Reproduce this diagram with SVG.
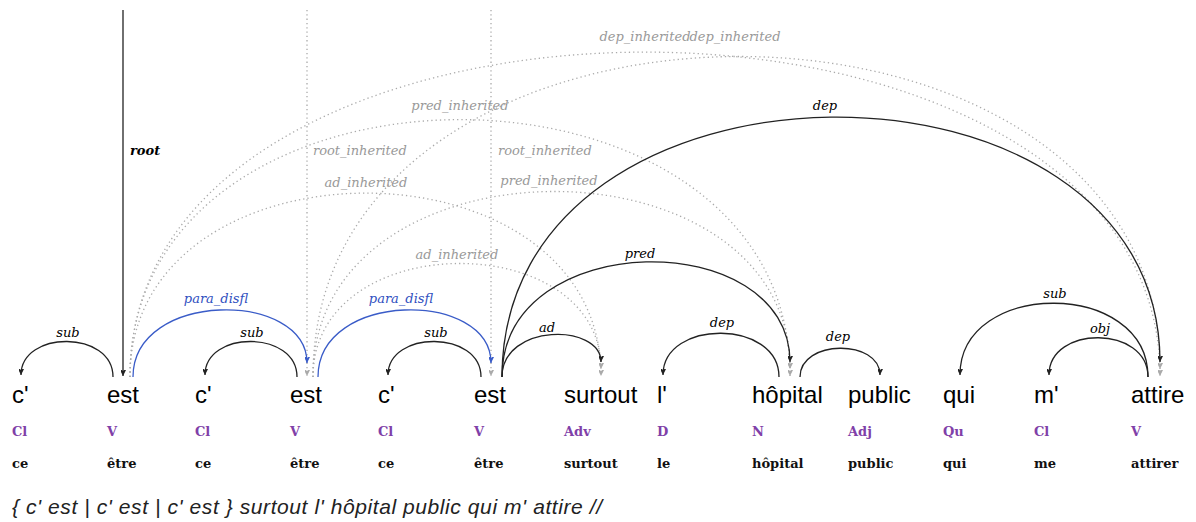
<svg xmlns="http://www.w3.org/2000/svg" width="1196" height="522" viewBox="0 0 1196 522">
<style>
.w{font-family:"Liberation Sans",Arial,sans-serif;font-size:24px;fill:#000}
.pos{font-family:"DejaVu Serif",serif;font-size:13px;font-weight:bold;fill:#8040a8}
.lem{font-family:"DejaVu Serif",serif;font-size:13px;font-weight:bold;fill:#111}
.sent{font-family:"Liberation Sans",Arial,sans-serif;font-size:21px;font-style:italic;fill:#222}
.lab{font-family:"DejaVu Serif",serif;font-size:13px;font-style:italic;text-anchor:middle}
.lk{fill:#000}
.lb{fill:#3050c0}
.lg{fill:#999}
.a{fill:none;stroke:#222;stroke-width:1.3}
.ab{fill:none;stroke:#3a5cc8;stroke-width:1.3}
.ad{fill:none;stroke:#aaa;stroke-width:1.3;stroke-dasharray:1.3 3}
</style>
<defs>
<marker id="mk" markerUnits="userSpaceOnUse" markerWidth="12" markerHeight="12" refX="6" refY="10" orient="auto" viewBox="0 0 12 12"><path d="M6,10 L2,2 L6,5 L10,2 Z" fill="#222" transform="rotate(-90 6 10)"/></marker>
<marker id="mb" markerUnits="userSpaceOnUse" markerWidth="12" markerHeight="12" refX="6" refY="10" orient="auto" viewBox="0 0 12 12"><path d="M6,10 L2,2 L6,5 L10,2 Z" fill="#3a5cc8" transform="rotate(-90 6 10)"/></marker>
<marker id="mg" markerUnits="userSpaceOnUse" markerWidth="12" markerHeight="12" refX="6" refY="10" orient="auto" viewBox="0 0 12 12"><path d="M6,10 L2,2 L6,5 L10,2 Z" fill="#aaa" transform="rotate(-90 6 10)"/></marker>
</defs>

<g id="connectors">
<path class="ad" marker-end="url(#mg)" d="M307,10 L307,376"/>
<path class="ad" marker-end="url(#mg)" d="M491,10 L491,376"/>
<path class="ad" marker-end="url(#mg)" d="M130,377 C130,-56 1160,-56 1160,376"/>
<path class="ad" marker-end="url(#mg)" d="M313,377 C313,-49 1160,-49 1160,369"/>
<path class="ad" marker-end="url(#mg)" d="M130,377 C130,34 790,34 790,376"/>
<path class="ad" marker-end="url(#mg)" d="M313,377 C313,131 790,131 790,369"/>
<path class="ad" marker-end="url(#mg)" d="M130,377 C130,132 601,132 601,376"/>
<path class="ad" marker-end="url(#mg)" d="M313,377 C313,227 601,227 601,369"/>
<path class="a" marker-end="url(#mk)" d="M123,10 L123,376"/>
<path class="a" marker-end="url(#mk)" d="M113,377 C113,330 21,330 21,375"/>
<path class="ab" marker-end="url(#mb)" d="M133,377 C133,290 307,290 307,363"/>
<path class="a" marker-end="url(#mk)" d="M297,377 C297,330 205,330 205,375"/>
<path class="ab" marker-end="url(#mb)" d="M318,377 C318,290 491,290 491,363"/>
<path class="a" marker-end="url(#mk)" d="M481,377 C481,330 388,330 388,375"/>
<path class="a" marker-end="url(#mk)" d="M502,377 C502,323 601,323 601,362"/>
<path class="a" marker-end="url(#mk)" d="M502,377 C502,226 790,226 790,362"/>
<path class="a" marker-end="url(#mk)" d="M502,377 C502,33 1160,33 1160,362"/>
<path class="a" marker-end="url(#mk)" d="M779,377 C779,319 663,319 663,375"/>
<path class="a" marker-end="url(#mk)" d="M800,377 C800,339 880,339 880,375"/>
<path class="a" marker-end="url(#mk)" d="M1148,377 C1148,279 960,279 960,375"/>
<path class="a" marker-end="url(#mk)" d="M1148,377 C1148,325 1049,325 1049,375"/>
</g>

<g id="labels">
<text class="lab lg" x="645" y="41">dep_inherited</text>
<text class="lab lg" x="735" y="41">dep_inherited</text>
<text class="lab lg" x="460" y="110">pred_inherited</text>
<text class="lab lg" x="313" y="155" style="text-anchor:start">root_inherited</text>
<text class="lab lg" x="498" y="155" style="text-anchor:start">root_inherited</text>
<text class="lab lg" x="366" y="187">ad_inherited</text>
<text class="lab lg" x="549" y="185">pred_inherited</text>
<text class="lab lg" x="457" y="259">ad_inherited</text>
<text class="lab lk" x="130" y="155" style="text-anchor:start;font-weight:bold">root</text>
<text class="lab lk" x="68" y="337">sub</text>
<text class="lab lk" x="252" y="337">sub</text>
<text class="lab lk" x="436" y="337">sub</text>
<text class="lab lb" x="216" y="303">para_disfl</text>
<text class="lab lb" x="401" y="303">para_disfl</text>
<text class="lab lk" x="547" y="332">ad</text>
<text class="lab lk" x="640" y="258">pred</text>
<text class="lab lk" x="825" y="110">dep</text>
<text class="lab lk" x="722" y="327">dep</text>
<text class="lab lk" x="838" y="341">dep</text>
<text class="lab lk" x="1055" y="298">sub</text>
<text class="lab lk" x="1100" y="333">obj</text>
</g>

<g id="n1"><text class="w" x="12" y="403">c'</text><text class="pos" x="12" y="436">Cl</text><text class="lem" x="12" y="468">ce</text></g>
<g id="n2"><text class="w" x="107" y="403">est</text><text class="pos" x="107" y="436">V</text><text class="lem" x="107" y="468">être</text></g>
<g id="n3"><text class="w" x="195" y="403">c'</text><text class="pos" x="195" y="436">Cl</text><text class="lem" x="195" y="468">ce</text></g>
<g id="n4"><text class="w" x="290" y="403">est</text><text class="pos" x="290" y="436">V</text><text class="lem" x="290" y="468">être</text></g>
<g id="n5"><text class="w" x="378" y="403">c'</text><text class="pos" x="378" y="436">Cl</text><text class="lem" x="378" y="468">ce</text></g>
<g id="n6"><text class="w" x="474" y="403">est</text><text class="pos" x="474" y="436">V</text><text class="lem" x="474" y="468">être</text></g>
<g id="n7"><text class="w" x="564" y="403">surtout</text><text class="pos" x="564" y="436">Adv</text><text class="lem" x="564" y="468">surtout</text></g>
<g id="n8"><text class="w" x="657" y="403">l'</text><text class="pos" x="657" y="436">D</text><text class="lem" x="657" y="468">le</text></g>
<g id="n9"><text class="w" x="752" y="403">hôpital</text><text class="pos" x="752" y="436">N</text><text class="lem" x="752" y="468">hôpital</text></g>
<g id="n10"><text class="w" x="848" y="403">public</text><text class="pos" x="848" y="436">Adj</text><text class="lem" x="848" y="468">public</text></g>
<g id="n11"><text class="w" x="943" y="403">qui</text><text class="pos" x="943" y="436">Qu</text><text class="lem" x="943" y="468">qui</text></g>
<g id="n12"><text class="w" x="1034" y="403">m'</text><text class="pos" x="1034" y="436">Cl</text><text class="lem" x="1034" y="468">me</text></g>
<g id="n13"><text class="w" x="1131" y="403">attire</text><text class="pos" x="1131" y="436">V</text><text class="lem" x="1131" y="468">attirer</text></g>

<text class="sent" x="12" y="514" textLength="590" lengthAdjust="spacing">{ c' est | c' est | c' est } surtout l' hôpital public qui m' attire //</text>
</svg>
